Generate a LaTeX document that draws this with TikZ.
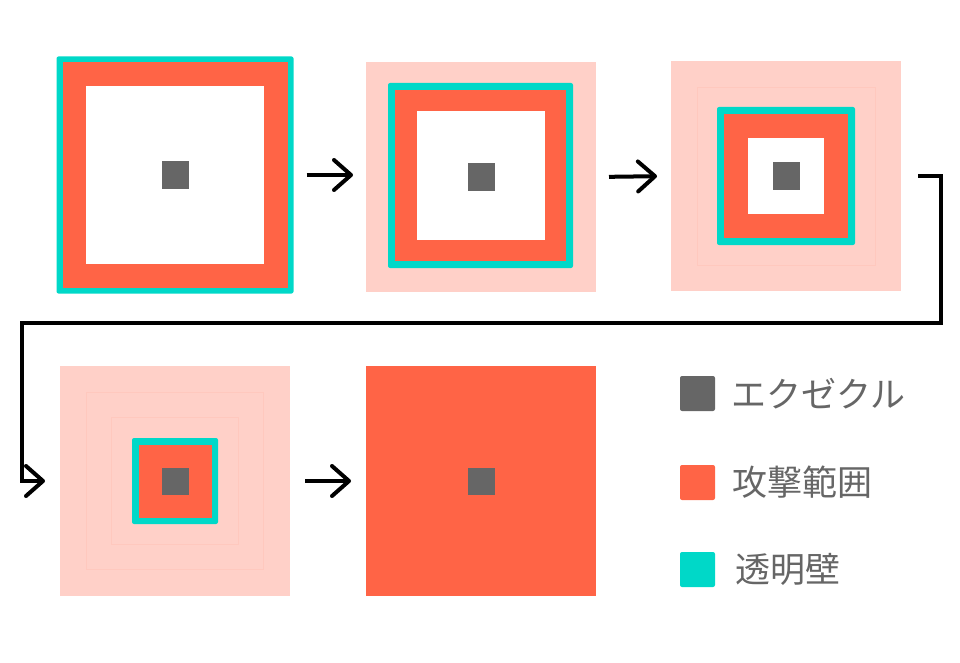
\documentclass[tikz,border=0pt]{standalone}
\usepackage{fontspec}
\usepackage{tikz}
\usetikzlibrary{arrows.meta}
\usetikzlibrary{positioning}
\newfontfamily\jpfont{Noto Sans CJK JP}
\definecolor{mred}{RGB}{255, 100, 70}
\definecolor{mpink}{RGB}{255, 208, 200}
\definecolor{mfaint}{RGB}{255, 200, 190}
\definecolor{mcyan}{RGB}{0, 216, 200}
\definecolor{mgray}{RGB}{102, 102, 102}
\tikzset{arr/.style = {line width = 4, -{Straight Barb[length = 17pt, width = 30pt, round]}}}
\tikzset{panel/.style = {inner sep = 0, outer sep = 0, minimum size = 230}}
\tikzset{wall/.style = {fill = mcyan, rounded corners = 2}}
\tikzset{faint/.style = {draw = mfaint, line width = 0.8}}
\tikzset{key/.style = {fill, rounded corners = 2, inner sep = 0, minimum size = 35}}
\tikzset{lbl/.style = {inner sep = 0, text = mgray, font = \jpfont\fontsize{35}{35}\selectfont}}

\begin{document}
\begin{tikzpicture}[x = 1pt, y = -1pt]
      \useasboundingbox (0, 0) rectangle (960, 663);

      \node [panel, minimum size = 237] (p1) at (175, 175) {};
      \node [panel, fill = mpink] (p2) at (481, 177) {};
      \node [panel, fill = mpink] (p3) at (786, 176) {};
      \node [panel, fill = mpink] (p4) at (175, 481) {};
      \node [panel, fill = mred] (p5) at (481, 481) {};

      % step 1
      \fill [wall] (p1.center) +(-118.5, -118.5) rectangle +(118.5, 118.5);
      \fill [mred] (p1.center) +(-112.5, -112.5) rectangle +(112.5, 112.5);
      \fill [white] (p1.center) +(-89, -89) rectangle +(89, 89);

      % step 2
      \fill [wall] (480.5, 175.5) +(-92.5, -92.5) rectangle +(92.5, 92.5);
      \fill [mred] (480.5, 175.5) +(-85.5, -85.5) rectangle +(85.5, 85.5);
      \fill [white] (480.5, 175.5) +(-63.5, -64) rectangle +(64, 64);

      % step 3
      \draw [faint] (p3.center) +(-89, -89) rectangle +(89, 89);
      \fill [wall] (p3.center) +(-69, -69) rectangle +(69, 69);
      \fill [mred] (p3.center) +(-62, -62) rectangle +(62, 62);
      \fill [white] (p3.center) +(-38, -38) rectangle +(38, 38);

      % step 4
      \draw [faint] (p4.center) +(-88.5, -88.5) rectangle +(88.5, 88.5);
      \draw [faint] (p4.center) +(-63.5, -63.5) rectangle +(63.5, 63.5);
      \fill [wall] (p4.center) +(-43, -43) rectangle +(43, 43);
      \fill [mred] (p4.center) +(-36.5, -36.5) rectangle +(36.5, 36.5);

      % core
      \foreach \p in {p1, p2, p3, p4, p5}
        \fill [mgray] (\p.center) +(-13.5, -13.5) rectangle +(13.5, 13.5);

      \draw [arr, shorten < = 13, shorten > = 13] (p1) -- (p1 -| p2.west);
      \draw [arr, shorten < = 13, shorten > = 14] (p2.east) -- (p3.west);
      \draw [arr, shorten < = 15, shorten > = 15] (p4) -- (p5);
      \draw [arr, shorten < = 17, shorten > = 15] (p3.east) -| (941, 323) -| (22, 481) -- (p4.west);

      \node [key, fill = mgray] (k1) at (697.5, 393.5) {};
      \node [key, fill = mred] (k2) at (697.5, 482.5) {};
      \node [key, fill = mcyan] (k3) at (697.5, 569.5) {};
      \node [lbl, right = 16 of k1] (l1) {エクゼクル};
      \node [lbl, right = 17 of k2] (l2) {攻撃範囲};
      \node [lbl, right = 20 of k3] (l3) {透明壁};
    \end{tikzpicture}
\end{document}
